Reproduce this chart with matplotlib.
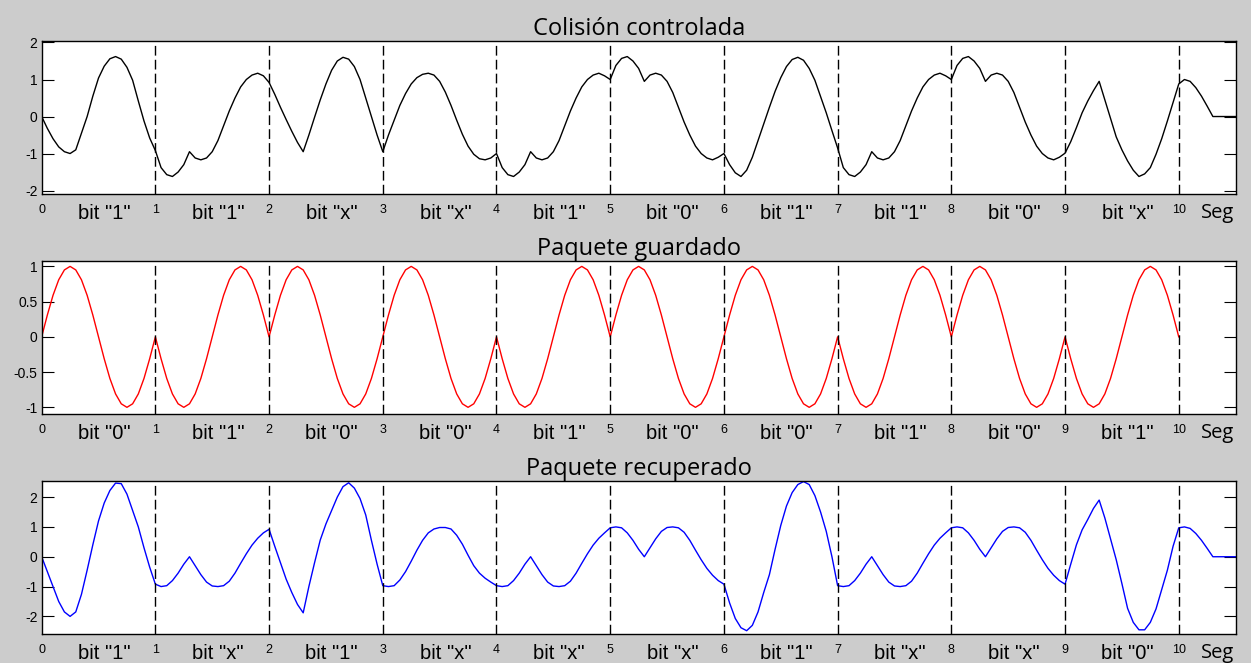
import matplotlib.pyplot as plt
import numpy as np

plt.rcParams['font.family'] = ['Liberation Sans', 'DejaVu Sans']

paso = 0.05  # seg entre muestras

titulos = ["Colisión controlada", "Paquete guardado", "Paquete recuperado"]
bits_colision = ["1", "1", "x", "x", "1", "0", "1", "1", "0", "x"]
bits_guardado = ["0", "1", "0", "0", "1", "0", "0", "1", "0", "1"]
bits_recuperado = ["1", "x", "1", "x", "x", "x", "1", "x", "x", "0"]

# muestras, un renglon por bit (20 muestras cada uno)
colision = [
    [0, -0.32, -0.6, -0.82, -0.95, -1.0, -0.9, -0.45, 0.0, 0.55, 1.04, 1.36, 1.56, 1.62, 1.55, 1.33, 0.98, 0.42, -0.12, -0.58],
    [-0.92, -1.38, -1.57, -1.62, -1.5, -1.3, -0.95, -1.12, -1.17, -1.12, -0.95, -0.65, -0.25, 0.15, 0.5, 0.8, 1.0, 1.12, 1.17, 1.1],
    [0.92, 0.6, 0.25, -0.08, -0.4, -0.7, -0.95, -0.5, -0.02, 0.45, 0.88, 1.25, 1.5, 1.6, 1.55, 1.35, 1.0, 0.5, 0.0, -0.5],
    [-0.95, -0.5, -0.1, 0.3, 0.62, 0.88, 1.05, 1.14, 1.17, 1.12, 0.95, 0.66, 0.3, -0.1, -0.48, -0.8, -1.02, -1.14, -1.17, -1.12],
    [-1.0, -1.38, -1.57, -1.62, -1.5, -1.3, -0.95, -1.12, -1.17, -1.12, -0.95, -0.65, -0.25, 0.15, 0.5, 0.8, 1.0, 1.12, 1.17, 1.1],
    [1.0, 1.38, 1.57, 1.62, 1.5, 1.3, 0.95, 1.12, 1.17, 1.12, 0.95, 0.65, 0.25, -0.15, -0.5, -0.8, -1.0, -1.12, -1.17, -1.1],
    [-1.0, -1.3, -1.52, -1.62, -1.45, -1.1, -0.65, -0.2, 0.25, 0.68, 1.05, 1.35, 1.54, 1.6, 1.52, 1.3, 0.98, 0.54, 0.1, -0.38],
    [-0.85, -1.38, -1.57, -1.62, -1.5, -1.3, -0.95, -1.12, -1.17, -1.12, -0.95, -0.65, -0.25, 0.15, 0.5, 0.8, 1.0, 1.12, 1.17, 1.1],
    [1.0, 1.38, 1.57, 1.62, 1.5, 1.3, 0.95, 1.12, 1.17, 1.12, 0.95, 0.65, 0.25, -0.15, -0.5, -0.8, -1.0, -1.12, -1.17, -1.1],
    [-0.99, -0.68, -0.3, 0.1, 0.42, 0.7, 0.95, 0.45, -0.05, -0.55, -0.9, -1.2, -1.45, -1.62, -1.55, -1.38, -1.02, -0.6, -0.12, 0.38],
]
colision_cola = [0.88, 1.0, 0.95, 0.78, 0.55, 0.28, 0.0, 0.0, 0.0, 0.0, 0.0]

# forma del simbolo "0" del paquete guardado (el "1" es la misma invertida)
simbolo_0 = [0, 0.31, 0.59, 0.81, 0.95, 1.0, 0.95, 0.81, 0.59, 0.31,
             0, -0.31, -0.59, -0.81, -0.95, -1.0, -0.95, -0.81, -0.59, -0.31]
guardado_final = [0.0]

recuperado = [
    [0, -0.5, -1.0, -1.5, -1.85, -2.0, -1.85, -1.26, -0.45, 0.4, 1.2, 1.8, 2.22, 2.47, 2.45, 2.1, 1.55, 1.0, 0.3, -0.35],
    [-0.92, -1.0, -0.97, -0.8, -0.55, -0.25, 0.0, -0.3, -0.6, -0.85, -0.98, -1.0, -0.97, -0.82, -0.55, -0.22, 0.1, 0.39, 0.62, 0.8],
    [0.92, 0.35, -0.2, -0.75, -1.2, -1.6, -1.88, -1.0, -0.2, 0.56, 1.1, 1.55, 2.0, 2.35, 2.48, 2.3, 1.95, 1.4, 0.55, -0.25],
    [-0.97, -1.0, -0.97, -0.78, -0.5, -0.15, 0.22, 0.55, 0.8, 0.93, 0.98, 0.98, 0.93, 0.72, 0.42, 0.05, -0.3, -0.55, -0.72, -0.85],
    [-0.97, -1.0, -0.97, -0.8, -0.55, -0.25, 0.0, -0.3, -0.6, -0.85, -0.98, -1.0, -0.97, -0.82, -0.55, -0.22, 0.1, 0.39, 0.62, 0.8],
    [0.97, 1.0, 0.97, 0.8, 0.55, 0.25, 0.0, 0.3, 0.6, 0.85, 0.98, 1.0, 0.97, 0.82, 0.55, 0.22, -0.1, -0.39, -0.62, -0.8],
    [-0.92, -1.55, -2.07, -2.38, -2.48, -2.3, -1.85, -1.2, -0.6, 0.25, 1.05, 1.7, 2.15, 2.42, 2.52, 2.42, 2.05, 1.5, 0.85, 0.0],
    [-0.97, -1.0, -0.97, -0.8, -0.55, -0.25, 0.0, -0.3, -0.6, -0.85, -0.98, -1.0, -0.97, -0.82, -0.55, -0.22, 0.1, 0.39, 0.62, 0.8],
    [0.97, 1.0, 0.97, 0.8, 0.55, 0.25, 0.0, 0.3, 0.6, 0.85, 0.98, 1.0, 0.97, 0.82, 0.55, 0.22, -0.1, -0.39, -0.62, -0.8],
    [-0.92, -0.25, 0.4, 0.9, 1.25, 1.62, 1.9, 1.3, 0.6, -0.1, -0.9, -1.73, -2.2, -2.45, -2.45, -2.2, -1.75, -1.1, -0.45, 0.35],
]
recuperado_cola = [0.97, 1.0, 0.95, 0.78, 0.55, 0.28, 0.0, 0.0, 0.0, 0.0, 0.0]

yticks_1 = [-2, -1, 0, 1, 2]
yticks_2 = [-1, -0.5, 0, 0.5, 1]
yticks_3 = [-2, -1, 0, 1, 2]


def armar(bloques, cola):
    y = np.concatenate([np.array(b, float) for b in bloques] + [np.array(cola, float)])
    return np.arange(len(y)) * paso, y


t_col, y_col = armar(colision, colision_cola)
s0 = np.array(simbolo_0, float)
t_gua, y_gua = armar([s0 if b == "0" else -s0 for b in bits_guardado], guardado_final)
t_rec, y_rec = armar(recuperado, recuperado_cola)

fig = plt.figure(figsize=(12.51, 6.63), dpi=100, facecolor='#cccccc')
posiciones = [0.707, 0.375, 0.0433]
series = [(t_col, y_col, 'k', bits_colision, yticks_1, (-2.1, 2.05)),
          (t_gua, y_gua, '#ff0000', bits_guardado, yticks_2, (-1.1, 1.08)),
          (t_rec, y_rec, '#0000ff', bits_recuperado, yticks_3, (-2.6, 2.55))]

for pos, titulo, (t, y, color, bits, yt, ylim) in zip(posiciones, titulos, series):
    ax = fig.add_axes([0.0333, pos, 0.9544, 0.2317])
    ax.plot(t, y, color=color, lw=1.0)
    for k in range(1, 11):
        ax.axvline(k, color='k', lw=1.0, ls=(0, (7, 3)))
    ax.set_xlim(0, 10.5)
    ax.set_ylim(*ylim)
    ax.set_xticks(range(11))
    ax.set_yticks(yt)
    ax.set_yticklabels([f'{v:g}' for v in yt])
    ax.tick_params(axis='x', length=0, pad=7, labelsize=9)
    ax.tick_params(axis='y', direction='in', length=8.6, right=True, labelsize=10, pad=3)
    for s in ax.spines.values():
        s.set_linewidth(1.0)
    ax.set_title(titulo, fontsize=17, family='Open Sans', pad=4)
    for i, b in enumerate(bits):
        ax.annotate(f'bit "{b}"', xy=(i + 0.55, 0), xycoords=('data', 'axes fraction'),
                    xytext=(0, -19), textcoords='offset pixels',
                    ha='center', va='center', fontsize=14.5)
    ax.annotate('Seg', xy=(10.34, 0), xycoords=('data', 'axes fraction'),
                xytext=(0, -19), textcoords='offset pixels',
                ha='center', va='center', fontsize=14.5, family='Open Sans')

fig.savefig('out.png', dpi=100, facecolor=fig.get_facecolor())
